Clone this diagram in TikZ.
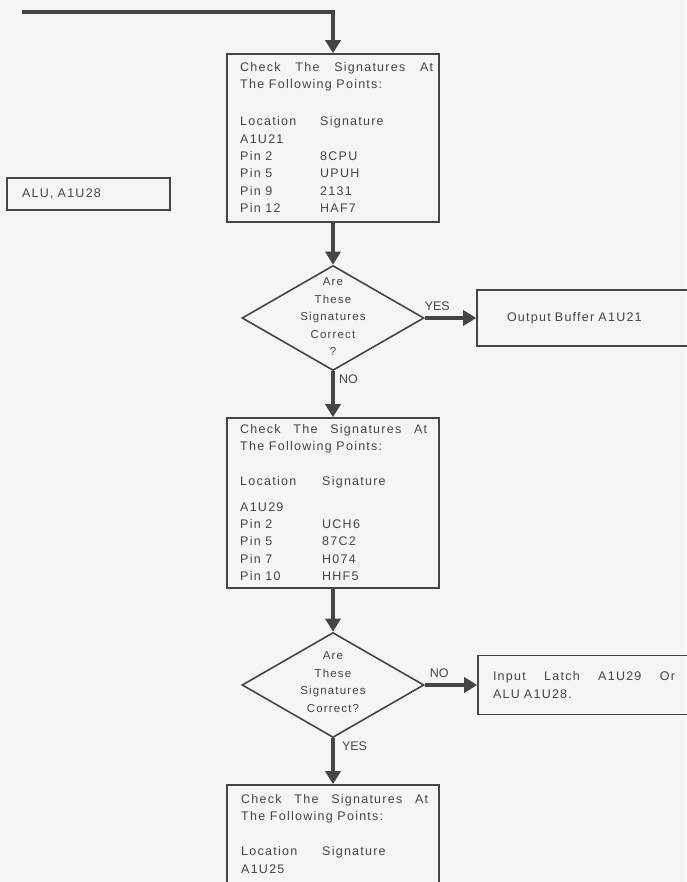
\documentclass[tikz,border=0pt]{standalone}
\usepackage{fontspec}
\setmainfont[LetterSpace=10]{Liberation Sans}
\newfontfamily\lblfont{Liberation Sans}
\usetikzlibrary{arrows.meta,shapes.geometric}
\definecolor{ink}{HTML}{454545}
\definecolor{paper}{HTML}{F5F5F3}
\newcommand{\spreadline}[2]{\hbox to #1{#2}}

\begin{document}
\begin{tikzpicture}[x=1pt,y=-1pt,
  box/.style={draw=ink,line width=1.6pt,inner sep=0pt},
  decision/.style={diamond,draw=ink,line width=1.6pt,minimum width=182pt,minimum height=105pt,inner sep=0pt},
  txt/.style={anchor=north west,inner sep=0pt,align=left,text=ink,font=\fontsize{12.5}{17.3}\selectfont},
  qtxt/.style={align=center,inner sep=0pt,text=ink,font=\fontsize{11.5}{17.5}\selectfont},
  flow/.style={draw=ink,line width=4pt,-{Triangle[length=13pt,width=15pt]}},
  answer/.style={text=ink,inner sep=1pt,font=\lblfont\fontsize{12.5}{14}\selectfont}]
\useasboundingbox (0,0) rectangle (686,882);
\fill[paper] (0,0) rectangle (686,882);
% boxes
\node (alu) at (88.5,194) [box,minimum width=163pt,minimum height=32pt,inner xsep=15pt,text width=133pt,align=left,text=ink,font=\fontsize{12.5}{17.3}\selectfont]{ALU, A1U28};
\node (chk1) at (333,138) [box,minimum width=212pt,minimum height=168pt]{};
\node (chk1txt) at (240,62) [txt]{\spreadline{193pt}{Check\hfill The\hfill Signatures\hfill At}\\The Following Points:\\[20pt]
  \makebox[80pt][l]{Location}Signature\\A1U21\\
  \makebox[80pt][l]{Pin 2}8CPU\\\makebox[80pt][l]{Pin 5}UPUH\\
  \makebox[80pt][l]{Pin 9}2131\\\makebox[80pt][l]{Pin 12}HAF7};
\node (q1) at (333,318) [decision]{};
\node (q1txt) at (333,317) [qtxt]{Are\\These\\Signatures\\Correct\\?};
\node (buf) at (589.5,318) [box,minimum width=225pt,minimum height=56pt,inner xsep=30pt,text width=165pt,align=left,text=ink,font=\fontsize{12.5}{17.3}\selectfont]{Output Buffer A1U21};
\node (chk2) at (333,503) [box,minimum width=212pt,minimum height=170pt]{};
\node (chk2txt) at (240,424) [txt]{\spreadline{187pt}{Check\hfill The\hfill Signatures\hfill At}\\The Following Points:\\[18pt]
  \makebox[82pt][l]{Location}Signature\\[8pt]A1U29\\
  \makebox[82pt][l]{Pin 2}UCH6\\\makebox[82pt][l]{Pin 5}87C2\\
  \makebox[82pt][l]{Pin 7}H074\\\makebox[82pt][l]{Pin 10}HHF5};
\node (q2) at (333,685) [decision]{};
\node (q2txt) at (333,682) [qtxt]{Are\\These\\Signatures\\Correct?};
\node (latch) at (589,685) [box,minimum width=222pt,minimum height=59pt,inner xsep=15pt,text width=192pt,align=left,text=ink,font=\fontsize{12.5}{17.3}\selectfont]{\spreadline{182pt}{Input\hfill Latch\hfill A1U29\hfill Or}\\ALU A1U28.};
\node (chk3) at (333,840) [box,minimum width=212pt,minimum height=110pt]{};
\node (chk3txt) at (241,794) [txt]{\spreadline{187pt}{Check\hfill The\hfill Signatures\hfill At}\\The Following Points:\\[18pt]
  \makebox[81pt][l]{Location}Signature\\A1U25};
% connectors
\coordinate (feedin) at (22,12);
\draw[flow] (feedin) -| (chk1);
\draw[flow] (chk1) -- (q1);
\draw[flow] (q1) -- node[answer,pos=0,anchor=south west,xshift=-3pt,yshift=4pt]{YES} (buf);
\draw[flow] (q1) -- node[answer,pos=0,anchor=north west,xshift=3pt]{NO} (chk2);
\draw[flow] (chk2) -- (q2);
\draw[flow] (q2) -- node[answer,pos=0,anchor=south west,xshift=2pt,yshift=4pt]{NO} (latch);
\draw[flow] (q2) -- node[answer,pos=0,anchor=north west,xshift=6pt]{YES} (chk3);
\end{tikzpicture}
\end{document}
